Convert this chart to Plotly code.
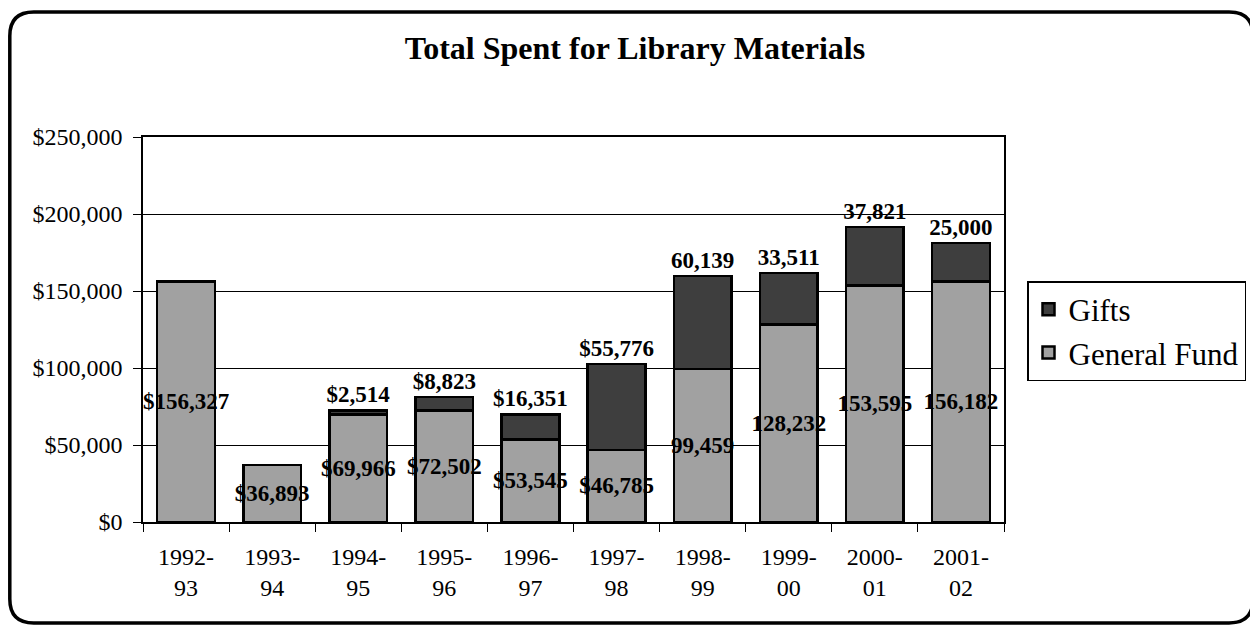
import plotly.graph_objects as go

categories = ["1992-<br>93", "1993-<br>94", "1994-<br>95", "1995-<br>96", "1996-<br>97",
              "1997-<br>98", "1998-<br>99", "1999-<br>00", "2000-<br>01", "2001-<br>02"]
general_fund = [156327, 36893, 69966, 72502, 53545, 46785, 99459, 128232, 153595, 156182]
gifts = [0, 0, 2514, 8823, 16351, 55776, 60139, 33511, 37821, 25000]
gf_labels = ["$156,327", "$36,893", "$69,966", "$72,502", "$53,545", "$46,785",
             "99,459", "128,232", "153,595", "156,182"]
gift_labels = ["", "", "$2,514", "$8,823", "$16,351", "$55,776",
               "60,139", "33,511", "37,821", "25,000"]
y_ticks = [0, 50000, 100000, 150000, 200000, 250000]
y_tick_text = ["$0", "$50,000", "$100,000", "$150,000", "$200,000", "$250,000"]

# page has an 8px body margin; figure coordinates = page coordinates - 8
OFF = 8
W, H = 1258 - OFF, 634 - OFF
L, R, T, B = 143 - OFF, W - (1004 - OFF), 137 - OFF, H - (522 - OFF)
FONT = "Liberation Serif"

fig = go.Figure()
fig.add_trace(go.Bar(
    name="General Fund", x=categories, y=general_fund, text=gf_labels,
    textposition="inside", insidetextanchor="middle", textangle=0,
    constraintext="none",
    textfont=dict(family=FONT, size=23, color="black", weight="bold"),
    marker=dict(color="#a1a1a1", line=dict(color="black", width=2.5)),
))
fig.add_trace(go.Bar(
    name="Gifts", x=categories, y=gifts, text=gift_labels,
    textposition="outside", textangle=0, constraintext="none",
    textfont=dict(family=FONT, size=23, color="black", weight="bold"),
    marker=dict(color="#3e3e3e", line=dict(color="black", width=2.5)),
    cliponaxis=False,
))

pw, ph = W - L - R, H - T - B
def px(X):
    return (X - L) / pw
def py(Y):
    return (H - B - Y) / ph

x0, x1, y0, y1, r = 1.8, 1245, 4, 615, 24
path = (f"M {px(x0+r)},{py(y0)} L {px(x1-r)},{py(y0)} "
        f"Q {px(x1)},{py(y0)} {px(x1)},{py(y0+r)} "
        f"L {px(x1)},{py(y1-r)} Q {px(x1)},{py(y1)} {px(x1-r)},{py(y1)} "
        f"L {px(x0+r)},{py(y1)} Q {px(x0)},{py(y1)} {px(x0)},{py(y1-r)} "
        f"L {px(x0)},{py(y0+r)} Q {px(x0)},{py(y0)} {px(x0+r)},{py(y0)} Z")

fig.update_layout(
    width=W, height=H,
    barmode="stack", bargap=0.33,
    margin=dict(l=L, r=R, t=T, b=B, autoexpand=False),
    paper_bgcolor="white", plot_bgcolor="white",
    font=dict(family=FONT, color="black"),
    title=dict(text="<b>Total Spent for Library Materials</b>",
               font=dict(family=FONT, size=32, color="black"),
               x=(635 - OFF) / W, xref="container", xanchor="center",
               y=1 - (48 - OFF) / H, yref="container", yanchor="middle"),
    showlegend=True,
    legend=dict(x=px(1027 - OFF), y=py(281 - OFF), xanchor="left", yanchor="top",
                traceorder="reversed", bordercolor="black", borderwidth=1.5,
                bgcolor="white", font=dict(family=FONT, size=31, color="black"),
                itemwidth=30, tracegroupgap=0),
    shapes=[dict(type="path", path=path, xref="paper", yref="paper",
                 line=dict(color="black", width=3.5), layer="above")],
)
fig.update_xaxes(showline=True, linecolor="black", linewidth=1.5, mirror=True,
                 ticks="outside", tickson="boundaries", ticklen=8, tickcolor="black",
                 ticklabelstandoff=12,
                 tickfont=dict(family=FONT, size=24, color="black"), showgrid=False)
fig.update_yaxes(range=[0, 250000], tickvals=y_ticks, ticktext=y_tick_text,
                 showline=True, linecolor="black", linewidth=1.5, mirror=True,
                 ticks="outside", ticklen=8, tickcolor="black", ticklabelstandoff=6,
                 showgrid=True, gridcolor="black", gridwidth=1,
                 tickfont=dict(family=FONT, size=24, color="black"), zeroline=False)

fig.write_html("out.html")
